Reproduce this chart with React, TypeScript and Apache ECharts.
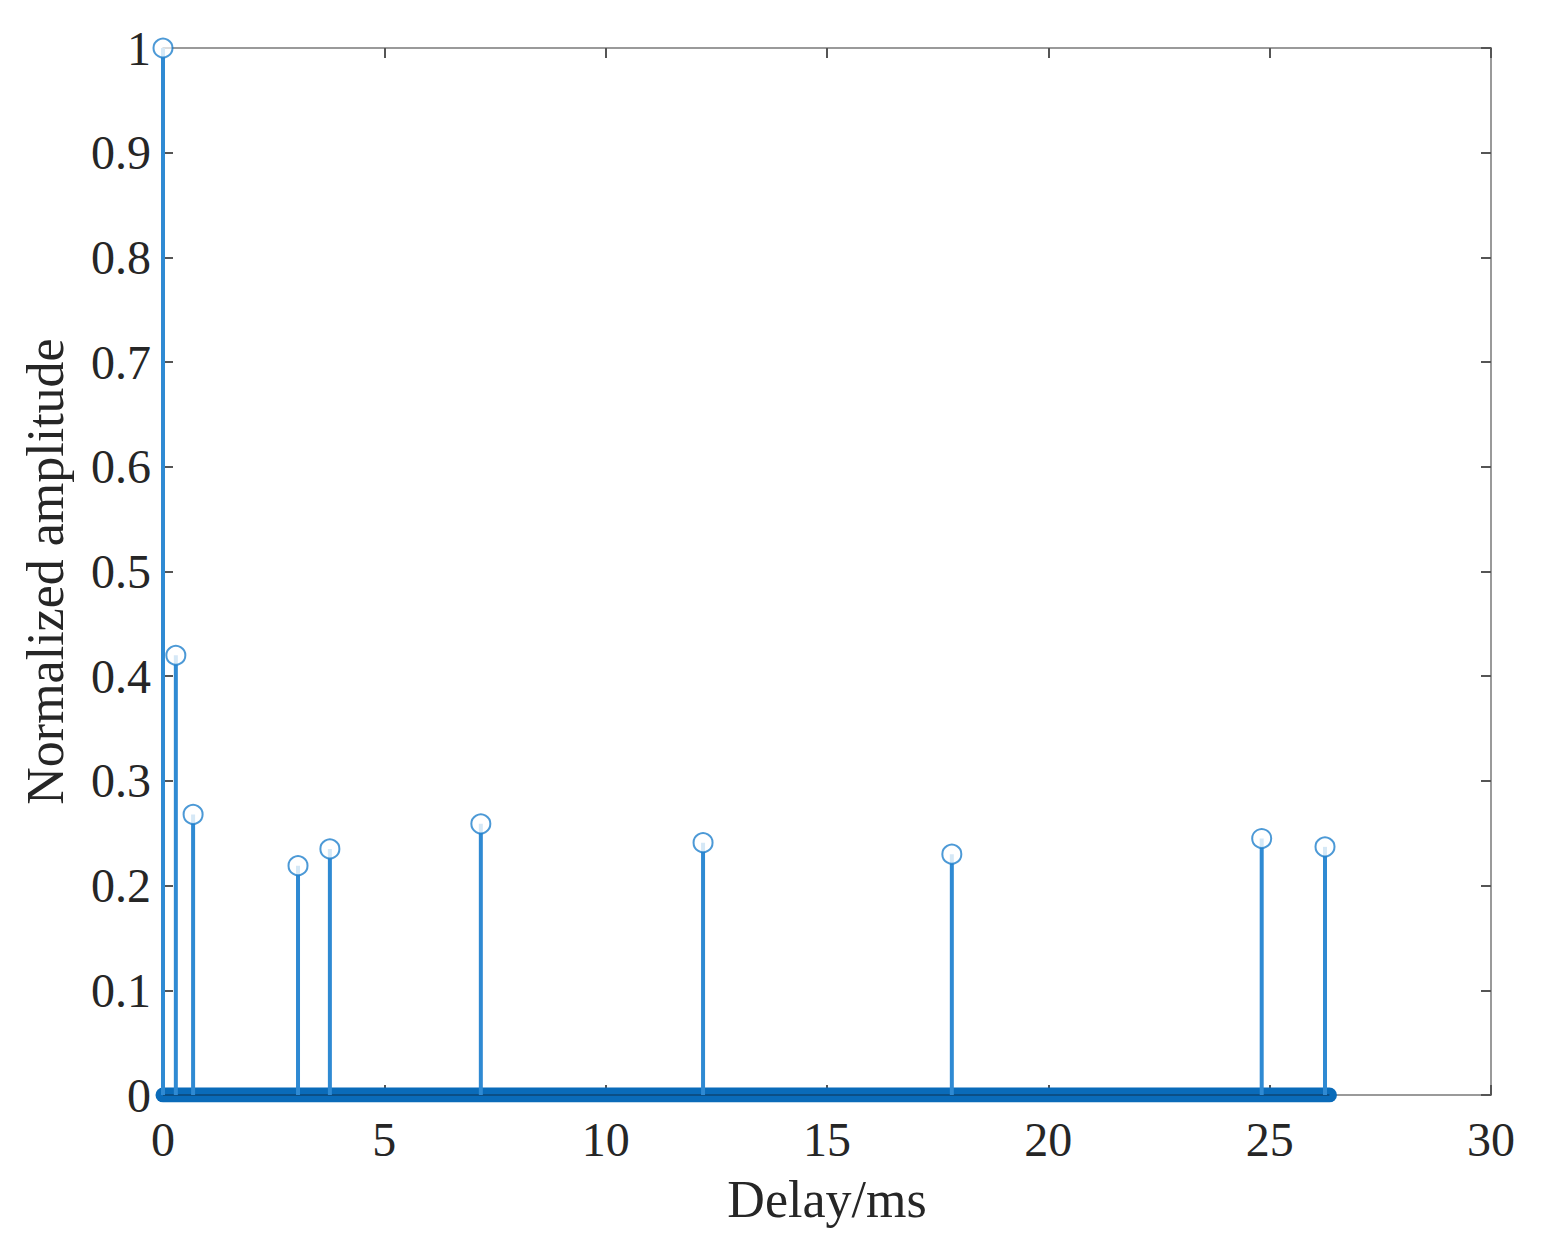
import React, { useEffect, useRef } from "react";
import * as echarts from "echarts";

const delays = [0, 0.29, 0.68, 3.05, 3.77, 7.18, 12.2, 17.82, 24.82, 26.25];
const amplitudes = [1.0, 0.42, 0.268, 0.219, 0.235, 0.259, 0.241, 0.23, 0.245, 0.237];
const baselineEnd = 26.35;
const xTicks = [0, 5, 10, 15, 20, 25, 30];
const yTicks = [0, 0.1, 0.2, 0.3, 0.4, 0.5, 0.6, 0.7, 0.8, 0.9, 1];

const FONT = "'Liberation Serif', 'Times New Roman', serif";
const STEM = "#2f8ad3";
const AXIS = "#9a9a9a";
const TEXT = "#262626";

export default function App() {
  const ref = useRef<HTMLDivElement>(null);
  useEffect(() => {
    const chart = echarts.init(ref.current!, null, { renderer: "svg" });
    const points = delays.map((d, i) => [d, amplitudes[i]]);
    const axisCommon = {
      type: "value" as const,
      axisLine: { show: true, onZero: false, lineStyle: { color: AXIS, width: 2 } },
      axisTick: { show: true, inside: true, length: 10, lineStyle: { color: "#555", width: 2 } },
      splitLine: { show: false },
    };
    chart.setOption({
      animation: false,
      grid: { left: 155, right: 43, top: 40, bottom: 148, outerBoundsMode: "none", containLabel: false },
      xAxis: [
        {
          ...axisCommon,
          min: xTicks[0],
          max: xTicks[xTicks.length - 1],
          interval: 5,
          name: "Delay/ms",
          nameLocation: "middle",
          nameGap: 78,
          nameTextStyle: { fontFamily: FONT, fontSize: 52, color: TEXT },
          axisLabel: { fontFamily: FONT, fontSize: 48, color: TEXT, margin: 20 },
        },
        {
          ...axisCommon,
          position: "top",
          min: xTicks[0],
          max: xTicks[xTicks.length - 1],
          interval: 5,
          axisLabel: { show: false },
        },
      ],
      yAxis: [
        {
          ...axisCommon,
          min: yTicks[0],
          max: yTicks[yTicks.length - 1],
          interval: 0.1,
          name: "Normalized amplitude",
          nameLocation: "middle",
          nameGap: 92,
          nameTextStyle: { fontFamily: FONT, fontSize: 52, color: TEXT },
          axisLabel: { fontFamily: FONT, fontSize: 48, color: TEXT, margin: 12 },
        },
        {
          ...axisCommon,
          position: "right",
          min: yTicks[0],
          max: yTicks[yTicks.length - 1],
          interval: 0.1,
          axisLabel: { show: false },
        },
      ],
      series: [
        {
          type: "line",
          data: [[0, 0], [baselineEnd, 0]],
          symbol: "none",
          lineStyle: { color: "#0a6bb9", width: 15, cap: "round" },
          z: 2,
        },
        {
          type: "line",
          data: [[0, 0], [baselineEnd, 0]],
          symbol: "none",
          lineStyle: { color: "#0b4f86", width: 2 },
          z: 3,
        },
        {
          type: "custom",
          data: points,
          renderItem: (params: any, api: any) => {
            const top = api.coord([api.value(0), api.value(1)]);
            const bottom = api.coord([api.value(0), 0]);
            return {
              type: "line",
              shape: { x1: top[0], y1: top[1], x2: bottom[0], y2: bottom[1] },
              style: { stroke: STEM, lineWidth: 4 },
            };
          },
          z: 4,
        },
        {
          type: "scatter",
          data: points,
          symbol: "emptyCircle",
          symbolSize: 19,
          itemStyle: { color: "#1f7fcc", borderColor: "#1a78c6", borderWidth: 4.5 },
          z: 5,
        },
      ],
    });
    return () => chart.dispose();
  }, []);
  return <div ref={ref} style={{ width: 1526, height: 1235 }} />;
}
